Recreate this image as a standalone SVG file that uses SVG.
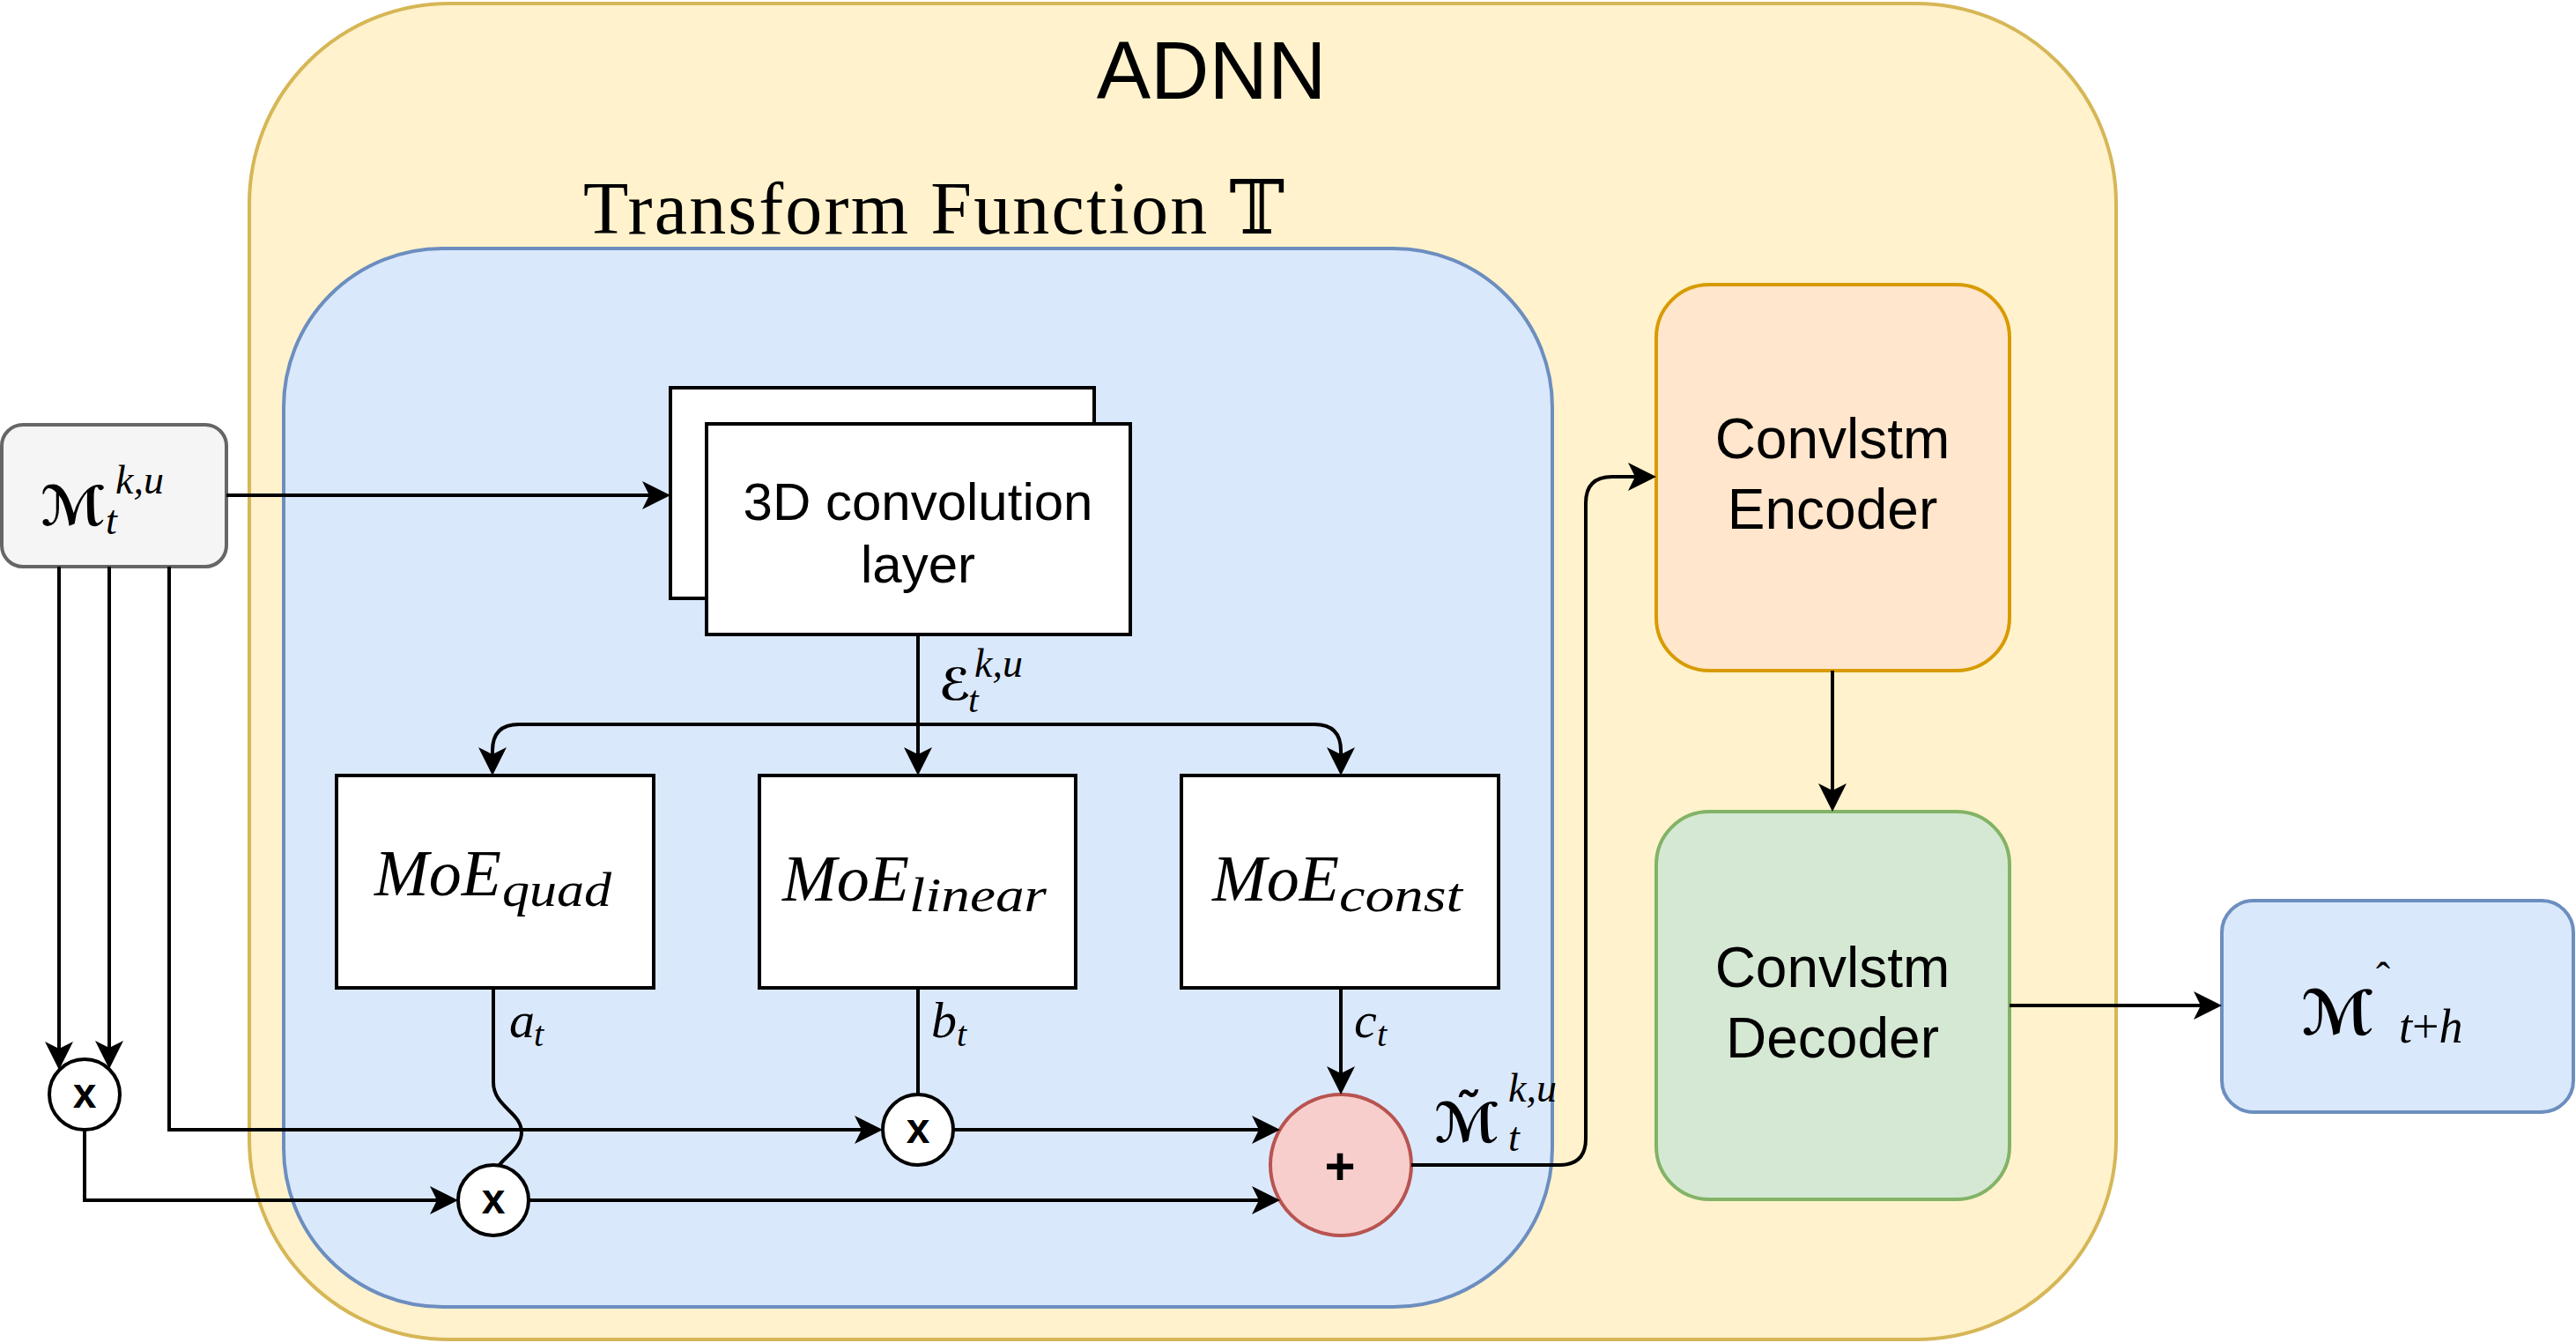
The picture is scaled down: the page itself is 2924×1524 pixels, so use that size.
<svg xmlns="http://www.w3.org/2000/svg" width="2924" height="1524" viewBox="0 0 2924 1524">
<defs>
<style>
.sans{font-family:"Liberation Sans",Arial,sans-serif;fill:#000}
.math{font-family:"Liberation Serif","DejaVu Serif",serif;font-style:italic;fill:#000}
.scr{font-family:"DejaVu Serif","DejaVu Sans",serif;font-style:italic;font-weight:bold}
.up{font-style:normal}
.rm{font-family:"Liberation Serif","DejaVu Serif",serif;fill:#000}
.box{fill:#fff;stroke:#000;stroke-width:4}
.op{fill:#fff;stroke:#000;stroke-width:4}
.edge{fill:none;stroke:#000;stroke-width:4}
.arr{marker-end:url(#arrow)}
</style>
<marker id="arrow" markerUnits="userSpaceOnUse" markerWidth="34" markerHeight="32" viewBox="0 0 34 32" refX="28" refY="16" orient="auto">
<path d="M0,0 L32,16 L0,32 L8,16 Z" fill="#000"/>
</marker>
</defs>
<rect width="2924" height="1524" fill="#fff"/>

<g id="adnn">
<rect x="283" y="4" width="2119" height="1516" rx="227" ry="227" fill="#fff2cc" stroke="#d6b656" stroke-width="4"/>
<text class="sans" x="1375" y="112" font-size="92" text-anchor="middle">ADNN</text>
</g>

<g id="transform">
<rect x="322" y="282" width="1440" height="1201" rx="180" ry="180" fill="#dae8fc" stroke="#6c8ebf" stroke-width="4"/>
<text class="rm" x="662" y="265" font-size="84" textLength="796" lengthAdjust="spacing">Transform Function <tspan font-family="DejaVu Serif,DejaVu Sans,serif">𝕋</tspan></text>
</g>

<g id="input">
<rect x="2" y="482" width="255" height="161" rx="24" ry="24" fill="#f5f5f5" stroke="#666666" stroke-width="4"/>
<text class="math" x="46" y="596" font-size="46"><tspan class="scr" font-size="62">ℳ</tspan><tspan x="120" y="606">t</tspan><tspan x="131" y="560">k,u</tspan></text>
</g>

<g id="conv3d">
<rect class="box" x="761" y="440" width="481" height="239"/>
<rect class="box" x="802" y="481" width="481" height="239"/>
<text class="sans" x="1042" y="590" font-size="60" text-anchor="middle">3D convolution</text>
<text class="sans" x="1042" y="661" font-size="60" text-anchor="middle">layer</text>
</g>

<g id="moe-quad">
<rect class="box" x="382" y="880" width="360" height="241"/>
<text class="math" x="425" y="1016" font-size="74">MoE</text>
<text class="math" x="570" y="1028" font-size="54" textLength="124" lengthAdjust="spacingAndGlyphs">quad</text>
</g>

<g id="moe-linear">
<rect class="box" x="862" y="880" width="359" height="241"/>
<text class="math" x="888" y="1022" font-size="74">MoE</text>
<text class="math" x="1032" y="1034" font-size="54" textLength="156" lengthAdjust="spacingAndGlyphs">linear</text>
</g>

<g id="moe-const">
<rect class="box" x="1341" y="880" width="360" height="241"/>
<text class="math" x="1376" y="1022" font-size="74">MoE</text>
<text class="math" x="1520" y="1034" font-size="54" textLength="140" lengthAdjust="spacingAndGlyphs">const</text>
</g>

<g id="mul-left">
<circle class="op" cx="96" cy="1242" r="40"/>
<text class="sans" x="96" y="1257" font-size="48" font-weight="bold" text-anchor="middle">x</text>
</g>

<g id="mul-a">
<circle class="op" cx="560" cy="1362" r="40"/>
<text class="sans" x="560" y="1377" font-size="48" font-weight="bold" text-anchor="middle">x</text>
</g>

<g id="mul-b">
<circle class="op" cx="1042" cy="1282" r="40"/>
<text class="sans" x="1042" y="1297" font-size="48" font-weight="bold" text-anchor="middle">x</text>
</g>

<g id="sum">
<circle cx="1522" cy="1322" r="80" fill="#f8cecc" stroke="#b85450" stroke-width="4"/>
<text class="sans" x="1521" y="1344" font-size="60" font-weight="bold" text-anchor="middle">+</text>
</g>

<g id="encoder">
<rect x="1880" y="323" width="401" height="438" rx="60" ry="60" fill="#ffe6cc" stroke="#d79b00" stroke-width="4"/>
<text class="sans" x="2080" y="520" font-size="64" text-anchor="middle">Convlstm</text>
<text class="sans" x="2080" y="600" font-size="64" text-anchor="middle">Encoder</text>
</g>

<g id="decoder">
<rect x="1880" y="921" width="401" height="440" rx="60" ry="60" fill="#d5e8d4" stroke="#82b366" stroke-width="4"/>
<text class="sans" x="2080" y="1120" font-size="64" text-anchor="middle">Convlstm</text>
<text class="sans" x="2080" y="1200" font-size="64" text-anchor="middle">Decoder</text>
</g>

<g id="output">
<rect x="2522" y="1022" width="399" height="240" rx="36" ry="36" fill="#dae8fc" stroke="#6c8ebf" stroke-width="4"/>
<text class="math" x="2612" y="1174" font-size="54"><tspan class="scr" font-size="70">ℳ</tspan><tspan class="up" x="2697" y="1126" font-size="48" font-family="Liberation Serif,serif">ˆ</tspan><tspan x="2723" y="1183">t</tspan><tspan class="up">+</tspan><tspan>h</tspan></text>
</g>

<g id="connectors">
<path class="edge arr" d="M257,562 H757"/>
<path class="edge arr" d="M67,643 V1210"/>
<path class="edge arr" d="M124,643 V1209"/>
<path class="edge arr" d="M192,643 V1282 H998"/>
<path class="edge arr" d="M96,1282 V1362 H516"/>
<path class="edge" d="M560,1121 V1228 C560,1256 592,1262 592,1285 C592,1302 574,1312 566,1323"/>
<path class="edge" d="M1042,1121 V1242"/>
<path class="edge arr" d="M1522,1121 V1238"/>
<path class="edge arr" d="M1082,1282 H1449"/>
<path class="edge arr" d="M600,1362 H1449"/>
<path class="edge arr" d="M1042,720 V876"/>
<path class="edge arr" d="M1042,822 H589 Q559,822 559,852 V876"/>
<path class="edge arr" d="M1042,822 H1492 Q1522,822 1522,852 V876"/>
<path class="edge arr" d="M1602,1322 H1770 Q1800,1322 1800,1292 V571 Q1800,541 1830,541 H1876"/>
<path class="edge arr" d="M2080,761 V917"/>
<path class="edge arr" d="M2281,1141 H2518"/>
</g>

<g id="edge-labels">
<text class="math" x="1066" y="794" font-size="46"><tspan class="scr" font-size="50">ℰ</tspan><tspan x="1099" y="808" font-size="42">t</tspan><tspan x="1106" y="768">k,u</tspan></text>
<text class="math" x="578" y="1177" font-size="58">a<tspan x="606" y="1187" font-size="40">t</tspan></text>
<text class="math" x="1057" y="1177" font-size="58">b<tspan x="1086" y="1187" font-size="40">t</tspan></text>
<text class="math" x="1537" y="1177" font-size="58">c<tspan x="1563" y="1187" font-size="40">t</tspan></text>
<text class="math" x="1628" y="1296" font-size="46"><tspan class="scr" font-size="62">ℳ̃</tspan><tspan x="1712" y="1306">t</tspan><tspan x="1712" y="1250">k,u</tspan></text>
</g>
</svg>
